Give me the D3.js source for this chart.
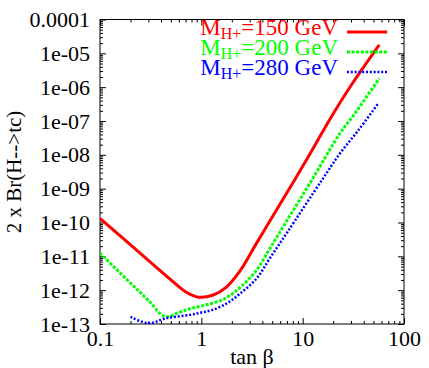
<!DOCTYPE html>
<html>
<head>
    <title>2 x Br(H-->tc) vs tan beta</title>
    <style>
        body, html {
            margin: 0;
            padding: 0;
            background: #fff;
            overflow: hidden;
        }
        text {
            font-family: "Liberation Serif", "Times New Roman", serif;
        }
    </style>
    <script src="https://d3js.org/d3.v7.min.js"></script>
</head>
<body>

<svg id="chart" width="429" height="368"></svg>

<script>
// values
const tanB150 = [0.1, 0.25, 0.36, 0.53, 0.72, 0.93, 1.31, 1.78, 2.41, 3.52, 4.76, 8.41, 12.3, 18.7, 30, 57];
const br150 = [1.32e-10, 1.23e-11, 4.68e-12, 1.74e-12, 8.5e-13, 6.2e-13, 7.2e-13, 1.26e-12, 3.7e-12, 2.5e-11, 1.12e-10, 1.9e-9, 1.32e-8, 1.17e-7, 1.12e-6, 1.78e-5];

const tanB200 = [0.1, 0.2, 0.3, 0.44, 0.6, 0.77, 1.0, 1.65, 2.41, 3.52, 4.76, 7, 12.3, 23.4, 32.9, 57];
const br200 = [1.23e-11, 1.62e-12, 5.0e-13, 1.66e-13, 2.19e-13, 2.82e-13, 3.39e-13, 5.37e-13, 1.2e-12, 3.98e-12, 1.74e-11, 1.15e-10, 1.8e-9, 4.37e-8, 1.7e-7, 1.82e-6];

const tanB280 = [0.2, 0.3, 0.45, 0.77, 1.0, 1.27, 1.78, 2.41, 3.52, 4.76, 7, 15.5, 23.4, 35.6, 55];
const br280 = [1.64e-13, 1.05e-13, 1.48e-13, 1.86e-13, 2.19e-13, 2.57e-13, 4.07e-13, 7.9e-13, 2.24e-12, 8.9e-12, 5.0e-11, 1.8e-9, 1.11e-8, 5.4e-8, 3.16e-7];

const seriesMass = ['150', '200', '280'];
const seriesColor = ['#ff0000', '#00ff00', '#0000ff'];
const seriesDash = [null, '3,1.6', '2,1.8'];
const seriesWidth = [3, 3, 2.5];

const xTicks = [0.1, 1, 10, 100];
const yTicks = [1e-13, 1e-12, 1e-11, 1e-10, 1e-9, 1e-8, 1e-7, 1e-6, 1e-5, 1e-4];
const yTickLabels = ['1e-13', '1e-12', '1e-11', '1e-10', '1e-09', '1e-08', '1e-07', '1e-06', '1e-05', '0.0001'];

const svg = d3.select('#chart');
const mLeft = 100, mRight = 404, mTop = 19.5, mBottom = 324;

const x = d3.scaleLog().domain([0.1, 100]).range([mLeft, mRight]);
const y = d3.scaleLog().domain([1e-13, 1e-4]).range([mBottom, mTop]);

function minors(lo, hi) {
    const out = [];
    for (let p = lo; p < hi * 0.99; p *= 10) {
        for (let k = 2; k <= 9; k++) out.push(p * k);
    }
    return out;
}
const xMinor = minors(0.1, 100);
const yMinor = minors(1e-13, 1e-4);

// tick marks on all four sides, pointing inward
function drawTicks(axisFn, scale, values, size, transform) {
    const g = svg.append('g').attr('transform', transform)
        .call(axisFn(scale).tickValues(values).tickSize(size).tickFormat(''));
    g.select('.domain').remove();
    g.selectAll('line').attr('stroke', '#000').attr('stroke-width', 1);
}

drawTicks(d3.axisBottom, x, xMinor, -3, `translate(0,${mBottom})`);
drawTicks(d3.axisTop, x, xMinor, -3, `translate(0,${mTop})`);
drawTicks(d3.axisTop, x, xTicks, -6, `translate(0,${mTop})`);
drawTicks(d3.axisLeft, y, yMinor, -3, `translate(${mLeft},0)`);
drawTicks(d3.axisRight, y, yMinor, -3, `translate(${mRight},0)`);
drawTicks(d3.axisRight, y, yTicks, -6, `translate(${mRight},0)`);

const xAxisG = svg.append('g').attr('transform', `translate(0,${mBottom})`)
    .call(d3.axisBottom(x).tickValues(xTicks).tickSize(-6).tickPadding(6)
        .tickFormat(d => d >= 1 ? String(Math.round(d)) : String(d)));
xAxisG.select('.domain').remove();
xAxisG.selectAll('line').attr('stroke', '#000');
xAxisG.selectAll('text').attr('font-size', 22).attr('fill', '#000')
    .attr('font-family', '"Liberation Serif", serif');

const yAxisG = svg.append('g').attr('transform', `translate(${mLeft},0)`)
    .call(d3.axisLeft(y).tickValues(yTicks).tickSize(-6).tickPadding(10)
        .tickFormat((d, i) => yTickLabels[i]));
yAxisG.select('.domain').remove();
yAxisG.selectAll('line').attr('stroke', '#000');
yAxisG.selectAll('text').attr('font-size', 22).attr('fill', '#000')
    .attr('font-family', '"Liberation Serif", serif');

svg.append('rect')
    .attr('x', mLeft).attr('y', mTop)
    .attr('width', mRight - mLeft).attr('height', mBottom - mTop)
    .attr('fill', 'none').attr('stroke', '#000').attr('stroke-width', 1);

svg.append('clipPath').attr('id', 'plot-clip')
    .append('rect')
    .attr('x', mLeft).attr('y', mTop)
    .attr('width', mRight - mLeft).attr('height', mBottom - mTop);

const line = d3.line()
    .x(d => x(d[0]))
    .y(d => y(d[1]))
    .curve(d3.curveCatmullRom.alpha(0.5));

const curves = [
    d3.zip(tanB150, br150),
    d3.zip(tanB200, br200),
    d3.zip(tanB280, br280)
];

curves.forEach((pts, i) => {
    svg.append('path')
        .datum(pts)
        .attr('clip-path', 'url(#plot-clip)')
        .attr('d', line)
        .attr('fill', 'none')
        .attr('stroke', seriesColor[i])
        .attr('stroke-width', seriesWidth[i])
        .attr('stroke-dasharray', seriesDash[i]);
});

// legend
const legendY = [32, 52, 72];
seriesMass.forEach((m, i) => {
    const t = svg.append('text')
        .attr('x', 338).attr('y', legendY[i] + 3)
        .attr('text-anchor', 'end')
        .attr('font-size', 23)
        .attr('fill', seriesColor[i]);
    t.append('tspan').text('M');
    t.append('tspan').attr('font-size', 16).attr('dy', 4).text('H+');
    t.append('tspan').attr('dy', -4).text(`=${m} GeV`);

    svg.append('line')
        .attr('x1', 347).attr('x2', 387)
        .attr('y1', legendY[i]).attr('y2', legendY[i])
        .attr('stroke', seriesColor[i])
        .attr('stroke-width', seriesWidth[i])
        .attr('stroke-dasharray', seriesDash[i]);
});

// axis titles
svg.append('text')
    .attr('x', 252).attr('y', 364)
    .attr('text-anchor', 'middle')
    .attr('font-size', 22)
    .text('tan β');

svg.append('text')
    .attr('transform', 'translate(21,172) rotate(-90)')
    .attr('text-anchor', 'middle')
    .attr('font-size', 21)
    .text('2 x Br(H-->tc)');
</script>

</body>
</html>
